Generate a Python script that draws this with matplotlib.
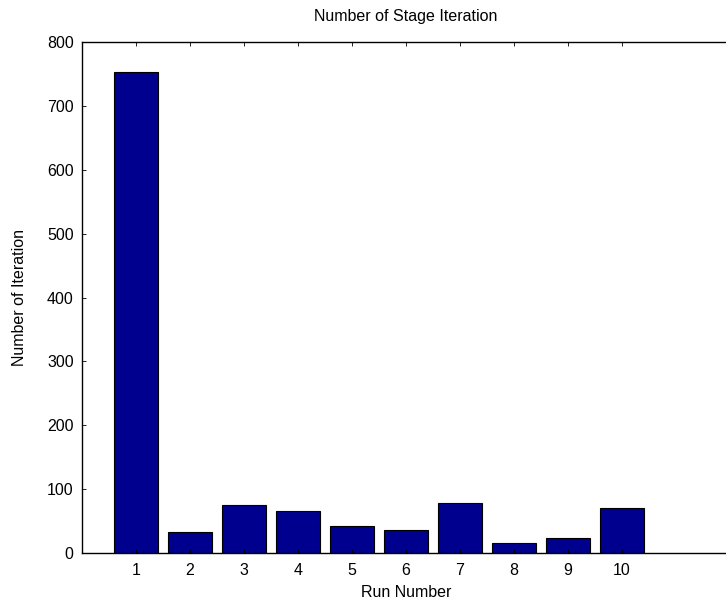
import matplotlib
matplotlib.use("Agg")
import matplotlib.pyplot as plt

plt.rcParams['font.family'] = ['Liberation Sans', 'DejaVu Sans']

runs = list(range(1, 11))
iterations = [753, 33, 75, 66, 43, 36, 78, 15, 24, 70]
yticks = [0, 100, 200, 300, 400, 500, 600, 700, 800]

fig = plt.figure(figsize=(7.26, 6.04), dpi=100)
ax = fig.add_axes([82 / 726, 51 / 604, 648 / 726, 511 / 604])

ax.bar(runs, iterations, width=0.8, color='#00008F', edgecolor='black', linewidth=0.8)

ax.set_xlim(0, 12)
ax.set_ylim(0, 800)
ax.set_xticks(runs)
ax.set_yticks(yticks)
ax.tick_params(axis='both', direction='in', length=3, width=0.6, labelsize=11.5,
               top=True, right=True)
ax.tick_params(axis='x', pad=7)
ax.tick_params(axis='y', pad=6)
for s in ax.spines.values():
    s.set_linewidth(1.0)

ax.set_title('Number of Stage Iteration', fontsize=11.5, pad=15)
ax.set_xlabel('Run Number', fontsize=11.5, labelpad=5)
ax.set_ylabel('Number of Iteration', fontsize=11.5, labelpad=14)

fig.savefig('out.png', dpi=100)
